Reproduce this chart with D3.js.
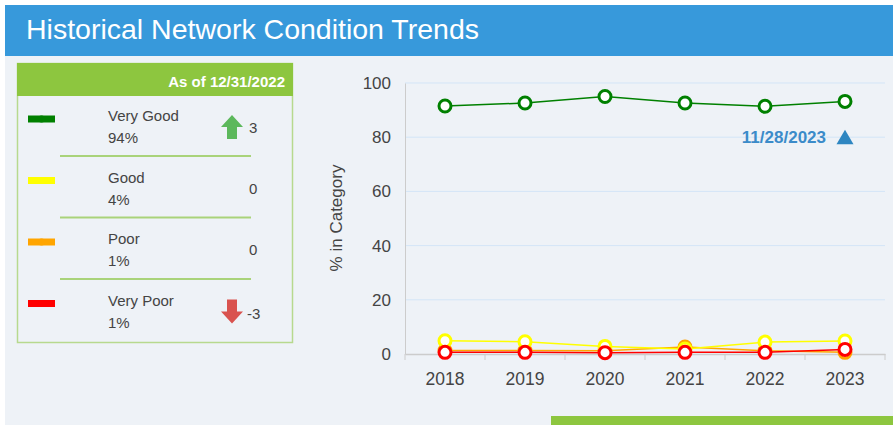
<!DOCTYPE html>
<html lang="en">
<head>
    <meta charset="UTF-8">
    <title>Historical Network Condition Trends</title>
    <script src="https://d3js.org/d3.v7.min.js"></script>
    <style>
        body { margin: 0; background: #fff; font-family: "Liberation Sans", Arial, sans-serif; }
        svg { display: block; }
    </style>
</head>
<body>
    <script>
        // chart data
        var years = ["2018", "2019", "2020", "2021", "2022", "2023"];
        var veryGood = [91.5, 92.6, 95.0, 92.6, 91.4, 93.2];
        var good = [4.9, 4.5, 2.8, 1.8, 4.4, 4.8];
        var poor = [1.3, 1.3, 1.2, 2.6, 1.2, 0.6];
        var veryPoor = [0.6, 0.6, 0.5, 0.6, 0.6, 1.7];
        var yTicks = [0, 20, 40, 60, 80, 100];

        // summary panel data
        var categories = ["Very Good", "Good", "Poor", "Very Poor"];
        var colors = ["#008000", "#ffff00", "#ffa500", "#ff0000"];
        var percents = ["94%", "4%", "1%", "1%"];
        var changes = [3, 0, 0, -3];
        var asOf = "As of 12/31/2022";
        var marker = "11/28/2023";

        var series = [veryGood, good, poor, veryPoor];

        var svg = d3.select("body").append("svg").attr("width", 893).attr("height", 425);

        svg.append("rect").attr("x", 5).attr("y", 5).attr("width", 888).attr("height", 420).attr("fill", "#eef2f7");
        svg.append("rect").attr("x", 5).attr("y", 5).attr("width", 888).attr("height", 51).attr("fill", "#3799db");
        svg.append("text").attr("x", 26).attr("y", 39).attr("fill", "#fff")
            .style("font-size", "28.5px").text("Historical Network Condition Trends");

        // bottom green strip
        svg.append("rect").attr("x", 551).attr("y", 416).attr("width", 342).attr("height", 9).attr("fill", "#8dc63f");

        // ---- left panel
        var panel = svg.append("g");
        panel.append("rect").attr("x", 17.5).attr("y", 63.5).attr("width", 275).attr("height", 279)
            .attr("fill", "none").attr("stroke", "#b7d98e").attr("stroke-width", 1.5);
        panel.append("rect").attr("x", 17).attr("y", 63).attr("width", 276).attr("height", 33).attr("fill", "#8dc63f");
        panel.append("text").attr("x", 285).attr("y", 87).attr("text-anchor", "end").attr("fill", "#fff")
            .style("font-size", "15px").style("font-weight", "bold").text(asOf);

        var rowY = d3.scaleLinear().domain([0, 1]).range([119, 180.5]);

        var rows = panel.selectAll("g.row").data(categories).enter().append("g")
            .attr("transform", function (d, i) { return "translate(0," + rowY(i) + ")"; });

        rows.append("rect").attr("x", 28).attr("y", -3.5).attr("width", 27).attr("height", 7)
            .attr("fill", function (d, i) { return colors[i]; });
        rows.append("circle").attr("cx", 41.5).attr("cy", 0).attr("r", 3.5)
            .attr("fill", function (d, i) { return colors[i]; });

        rows.append("text").attr("x", 108).attr("y", 2).attr("fill", "#444").style("font-size", "15px")
            .text(function (d) { return d; });
        rows.append("text").attr("x", 108).attr("y", 24).attr("fill", "#444").style("font-size", "15px")
            .text(function (d, i) { return percents[i]; });
        rows.append("text").attr("x", function (d, i) { return changes[i] < 0 ? 247 : 249; })
            .attr("y", function (d, i) { return changes[i] === 0 ? 13 : (changes[i] > 0 ? 13.5 : 15); })
            .attr("fill", "#444").style("font-size", "15px")
            .text(function (d, i) { return changes[i]; });

        // arrows
        rows.filter(function (d, i) { return changes[i] > 0; }).append("path")
            .attr("d", "M232,-4 L243,8 L237,8 L237,20 L227,20 L227,8 L221,8 Z")
            .attr("fill", "#5cb85c");
        rows.filter(function (d, i) { return changes[i] < 0; }).append("path")
            .attr("d", "M227,-4 L237,-4 L237,8 L243,8 L232,20 L221,8 L227,8 Z")
            .attr("fill", "#d9534f");

        // separators
        rows.filter(function (d, i) { return i < categories.length - 1; }).append("line")
            .attr("x1", 60).attr("x2", 251).attr("y1", 37).attr("y2", 37)
            .attr("stroke", "#a9d37a").attr("stroke-width", 2);

        // ---- line chart
        var x = d3.scaleBand().domain(years).range([405, 885]);
        var y = d3.scaleLinear().domain([0, 100]).range([354, 83]);

        var grid = svg.append("g");
        grid.selectAll("line").data(yTicks.filter(function (t) { return t > 0; })).enter().append("line")
            .attr("x1", 405).attr("x2", 885)
            .attr("y1", function (d) { return y(d); }).attr("y2", function (d) { return y(d); })
            .attr("stroke", "#d3e5f7").attr("stroke-width", 1);

        var yAxis = svg.append("g").attr("transform", "translate(405,0)")
            .call(d3.axisLeft(y).tickValues(yTicks).tickSize(0).tickPadding(14));
        yAxis.select(".domain").attr("stroke", "#ccc");
        yAxis.selectAll("text").attr("fill", "#444").style("font-size", "17px")
            .style("font-family", "Liberation Sans, Arial, sans-serif");

        var xAxis = svg.append("g").attr("transform", "translate(0,354)")
            .call(d3.axisBottom(x).tickSizeOuter(0).tickSize(0).tickPadding(19));
        xAxis.select(".domain").attr("stroke", "#ccc").attr("stroke-width", 1.5);
        xAxis.selectAll("text").attr("fill", "#444").style("font-size", "17.5px")
            .style("font-family", "Liberation Sans, Arial, sans-serif");
        var edges = years.map(function (d) { return x(d); }).concat([x.range()[1]]);
        xAxis.selectAll("line.edge").data(edges).enter().append("line").attr("class", "edge")
            .attr("x1", function (d) { return d; }).attr("x2", function (d) { return d; })
            .attr("y1", 0).attr("y2", 6).attr("stroke", "#ccc");

        svg.append("text").attr("transform", "translate(342,218) rotate(-90)")
            .attr("text-anchor", "middle").attr("fill", "#444").style("font-size", "17px")
            .text("% in Category");

        var line = d3.line()
            .x(function (d, i) { return x(years[i]) + x.bandwidth() / 2; })
            .y(function (d) { return y(d); });

        // draw from bottom layer up so Very Good is on top
        var order = [2, 1, 3, 0];
        order.forEach(function (k) {
            var g = svg.append("g");
            g.append("path").attr("d", line(series[k])).attr("fill", "none")
                .attr("stroke", colors[k]).attr("stroke-width", 1.5);
            g.selectAll("circle").data(series[k]).enter().append("circle")
                .attr("cx", function (d, i) { return x(years[i]) + x.bandwidth() / 2; })
                .attr("cy", function (d) { return y(d); })
                .attr("r", 6).attr("fill", "#fff")
                .attr("stroke", colors[k]).attr("stroke-width", 3);
        });

        // marker annotation
        var mx = x("2023") + x.bandwidth() / 2;
        var my = y(80);
        svg.append("path").attr("d", "M" + (mx - 8.5) + "," + (my + 7) + " L" + mx + "," + (my - 7.5) + " L" + (mx + 8.5) + "," + (my + 7) + " Z")
            .attr("fill", "#2e86c1");
        svg.append("text").attr("x", mx - 19).attr("y", my + 6).attr("text-anchor", "end")
            .attr("fill", "#3b8bc9").style("font-size", "17px").style("font-weight", "bold").text(marker);
    </script>
</body>
</html>
